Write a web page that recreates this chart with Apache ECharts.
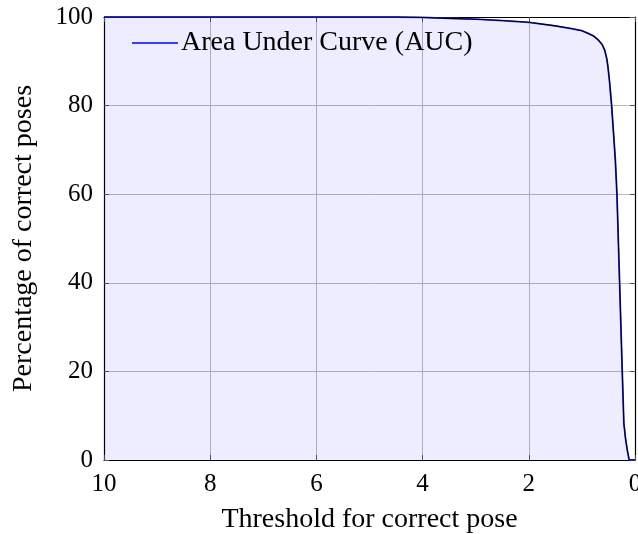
<!DOCTYPE html>
<html>
<head>
<meta charset="utf-8">
<script src="https://cdn.jsdelivr.net/npm/echarts@6/dist/echarts.min.js"></script>
<style>html,body{margin:0;padding:0;background:#fff;}#c{width:638px;height:534px;}</style>
</head>
<body>
<div id="c"></div>
<script>
const thresholds = [10, 8, 6, 4.5, 4, 3.5, 3, 2.5, 2, 1.5, 1.2, 1.0, 0.88, 0.78, 0.69, 0.62, 0.57, 0.53, 0.51, 0.48, 0.44, 0.40, 0.37, 0.34, 0.29, 0.24, 0.21, 0.18, 0.145, 0.11, 0];
const percentCorrect = [100, 100, 100, 100, 99.9, 99.7, 99.5, 99.2, 98.8, 98.0, 97.4, 96.9, 96.3, 95.7, 94.8, 93.8, 92.5, 90.5, 88.8, 85.5, 80, 73, 67.7, 60, 40, 20, 8.3, 5, 2.2, 0, 0];
const xTicks = [0, 2, 4, 6, 8, 10];
const yTicks = [0, 20, 40, 60, 80, 100];
const seriesName = 'Area Under Curve (AUC)';
const xLabel = 'Threshold for correct pose';
const yLabel = 'Percentage of correct poses';

const pts = thresholds.map((x, i) => [x, percentCorrect[i]]);
const FONT = 'Liberation Serif';
const chart = echarts.init(document.getElementById('c'), null, {renderer: 'canvas'});
const tickStyle = {show: true, inside: true, length: 5, lineStyle: {color: '#555', width: 1}};
chart.setOption({
  animation: false,
  backgroundColor: '#fff',
  grid: {left: 104, right: 3, top: 17, bottom: 74, containLabel: false, outerBoundsMode: 'none'},
  legend: {
    left: 127, top: 23,
    data: [{name: seriesName, icon: 'rect'}],
    itemWidth: 46, itemHeight: 1.5, itemGap: 7,
    textStyle: {fontFamily: FONT, fontSize: 28, color: '#000', lineHeight: 30, padding: [0,0,0,-2]},
    backgroundColor: 'transparent'
  },
  xAxis: [{
    type: 'value', inverse: true, min: 0, max: 10, interval: 2,
    name: xLabel, nameLocation: 'middle', nameGap: 46,
    nameTextStyle: {fontFamily: FONT, fontSize: 28, color: '#000'},
    axisLine: {show: true, onZero: false, lineStyle: {color: '#000', width: 1.2}},
    axisTick: tickStyle,
    axisLabel: {fontFamily: FONT, fontSize: 25, color: '#000', margin: 12,
      formatter: v => xTicks.includes(v) ? String(v) : ''},
    splitLine: {show: true, lineStyle: {color: '#b8b8b8', width: 1}}
  }, {
    type: 'value', inverse: true, min: 0, max: 10, interval: 2, position: 'top',
    axisLine: {show: true, onZero: false, lineStyle: {color: '#000', width: 1.2}},
    axisTick: tickStyle, axisLabel: {show: false}, splitLine: {show: false}
  }],
  yAxis: [{
    type: 'value', min: 0, max: 100, interval: 20,
    name: yLabel, nameLocation: 'middle', nameGap: 66, nameRotate: 90,
    nameTextStyle: {fontFamily: FONT, fontSize: 28, color: '#000'},
    axisLine: {show: true, onZero: false, lineStyle: {color: '#000', width: 1.2}},
    axisTick: tickStyle,
    axisLabel: {fontFamily: FONT, fontSize: 25, color: '#000', margin: 11,
      formatter: v => yTicks.includes(v) ? String(v) : ''},
    splitLine: {show: true, lineStyle: {color: '#b8b8b8', width: 1}}
  }, {
    type: 'value', min: 0, max: 100, interval: 20, position: 'right',
    axisLine: {show: true, onZero: false, lineStyle: {color: '#000', width: 1.2}},
    axisTick: tickStyle, axisLabel: {show: false}, splitLine: {show: false}
  }],
  series: [{
    name: seriesName, type: 'line', data: pts, showSymbol: false, symbol: 'none',
    itemStyle: {color: '#0000ff'},
    lineStyle: {color: '#3030ff', width: 1.8},
    areaStyle: {color: 'rgba(0,0,255,0.1)', origin: 'start'},
    z: 2
  }, {
    name: 'outline', type: 'line', data: pts, showSymbol: false, symbol: 'none',
    lineStyle: {color: '#000', width: 1.1}, z: 3, silent: true
  }]
});
</script>
</body>
</html>
